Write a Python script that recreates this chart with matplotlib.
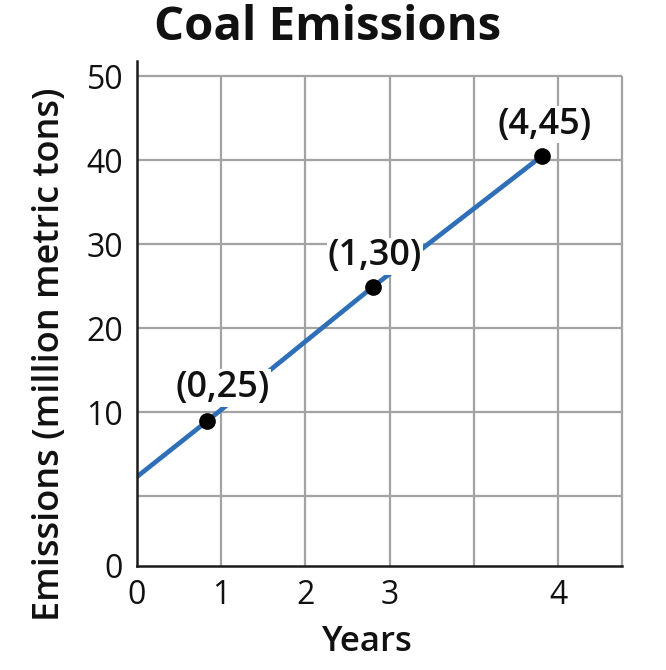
import matplotlib
matplotlib.use("Agg")
import matplotlib.pyplot as plt

# ---- data (as drawn on the reference) ----
point_labels = ["(0,25)", "(1,30)", "(4,45)"]
point_x = [0.83, 2.80, 4.81]
point_y = [8.9, 24.9, 40.5]
line_start_x = 0.0
line_start_y = 2.3

xtick_pos = [0, 1, 2, 3, 5]
xtick_labels = ["0", "1", "2", "3", "4"]
ytick_pos = [-8.33, 10, 20, 30, 40, 50]
ytick_labels = ["0", "10", "20", "30", "40", "50"]
x_grid = [1, 2, 3, 4, 5]
y_grid = [0, 10, 20, 30, 40, 50]

title = "Coal Emissions"
xlabel = "Years"
ylabel = "Emissions (million metric tons)"

# ---- styling ----
FONT = ["Open Sans", "DejaVu Sans"]
plt.rcParams["font.family"] = FONT
XMAX = 5.76
YMIN, YTOP, YMAX = -8.33, 50, 51.8
label_offsets = [(11.5, 24), (1.5, 22), (2, 22.5)]  # points

fig = plt.figure(figsize=(6.66, 6.70), dpi=100)
ax = fig.add_axes([137/666, 1-566/670, 485/666, 505/670])
ax.set_xlim(0, XMAX)
ax.set_ylim(YMIN, YMAX)

grid_kw = dict(color="#a3a3a3", linewidth=1.6, zorder=1, clip_on=False)
ax.vlines(x_grid + [XMAX], YMIN, YTOP, **grid_kw)
ax.hlines(y_grid, 0, XMAX, **grid_kw)

for side in ["top", "right"]:
    ax.spines[side].set_visible(False)
for side in ["left", "bottom"]:
    ax.spines[side].set_linewidth(1.8)
    ax.spines[side].set_color("#1a1a1a")
    ax.spines[side].set_zorder(5)

line_x = [line_start_x] + point_x
line_y = [line_start_y] + point_y
ax.plot(line_x, line_y, color="#2f6fb8", linewidth=3.4, solid_capstyle="butt", zorder=2)
ax.plot(point_x, point_y, "o", color="black", markersize=11, zorder=6)

for lab, x, y, off in zip(point_labels, point_x, point_y, label_offsets):
    ax.annotate(lab, (x, y), xytext=off, textcoords="offset points",
                ha="center", va="center", fontsize=26, fontweight="semibold",
                color="#111111", zorder=4,
                bbox=dict(facecolor="white", edgecolor="none", pad=0.5))

ax.set_xticks(xtick_pos)
ax.set_xticklabels(xtick_labels)
ax.set_yticks(ytick_pos)
ax.set_yticklabels(ytick_labels)
ax.tick_params(length=0, labelsize=23, colors="#111111")
ax.tick_params(axis="x", pad=9)
ax.tick_params(axis="y", pad=10)

ax.set_xlabel(xlabel, fontsize=25, fontweight="semibold", color="#111111")
ax.xaxis.set_label_coords((367-137)/485, -(642-566)/505)
ax.set_ylabel(ylabel, fontsize=26, fontweight="semibold", color="#111111")
ax.yaxis.set_label_coords(-(137-50)/485, (566-354)/505)
for lbl in [ax.xaxis.label, ax.yaxis.label]:
    lbl.set_verticalalignment("center")

fig.text(328/666, 1-27/670, title, ha="center", va="center",
         fontsize=34, fontweight="bold", color="#111111")

fig.savefig("out.png", dpi=100, facecolor="white")
